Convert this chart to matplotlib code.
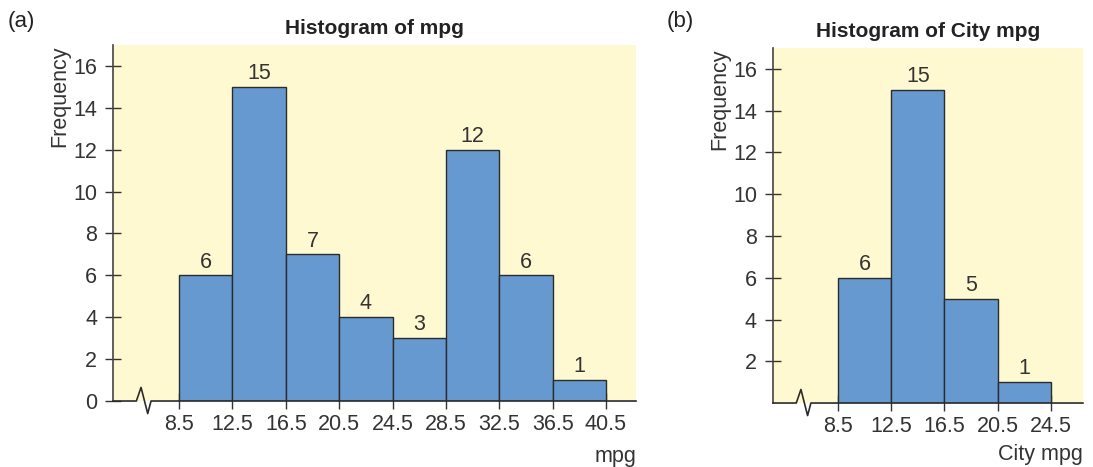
import matplotlib.pyplot as plt
from matplotlib import rcParams

rcParams['font.family'] = ['Liberation Sans', 'DejaVu Sans']
rcParams['xtick.labelsize'] = 15.5
rcParams['ytick.labelsize'] = 15.5
rcParams['xtick.color'] = '#333333'
rcParams['ytick.color'] = '#333333'
rcParams['axes.labelsize'] = 15.5
rcParams['axes.labelcolor'] = '#333333'

# data
mpg_edges = [8.5, 12.5, 16.5, 20.5, 24.5, 28.5, 32.5, 36.5, 40.5]
mpg_counts = [6, 15, 7, 4, 3, 12, 6, 1]
city_edges = [8.5, 12.5, 16.5, 20.5, 24.5]
city_counts = [6, 15, 5, 1]

bg = '#fff9d2'
bar_color = '#6699d0'
edge_color = '#2b2b2b'


def draw_hist(ax, edges, counts, xlim, yticks, title, xlabel, xlabelpad):
	ax.set_facecolor(bg)
	widths = [edges[i+1] - edges[i] for i in range(len(counts))]
	bars = ax.bar(edges[:-1], counts, width=widths, align='edge',
		color=bar_color, edgecolor=edge_color, linewidth=1.0, zorder=2)
	ax.bar_label(bars, padding=2, fontsize=15.5, color='#333333')

	ax.set_xlim(*xlim)
	ax.set_ylim(0, 17)
	ax.set_xticks(edges)
	ax.set_xticklabels([str(e) for e in edges])
	ax.set_yticks(yticks)

	for s in ['top', 'right', 'bottom']:
		ax.spines[s].set_visible(False)
	ax.spines['left'].set_color('#444444')
	ax.spines['left'].set_linewidth(1.2)
	ax.tick_params(axis='y', direction='inout', length=11, width=1, color='#333333', pad=6)
	ax.tick_params(axis='x', direction='inout', length=11, width=1, color='#333333', pad=4)

	# bottom axis line with break mark
	x0 = xlim[0]
	xb = x0 + 1.75
	ax.plot([x0, xb, xb + 0.35, xb + 0.85, xb + 1.1, xlim[1]],
		[0, 0, 0.65, -0.6, 0, 0],
		color=edge_color, linewidth=1.2, clip_on=False, zorder=3)

	ax.set_title(title, fontweight='bold', fontsize=15, pad=8, color='#222222')
	ax.set_ylabel('Frequency', loc='top', labelpad=2)
	ax.set_xlabel(xlabel, loc='right', labelpad=xlabelpad)


fig = plt.figure(figsize=(10.93, 4.67), dpi=100)
ax1 = fig.add_axes([0.1034, 0.1413, 0.4785, 0.7623])
ax2 = fig.add_axes([0.7072, 0.137, 0.2836, 0.760])

draw_hist(ax1, mpg_edges, mpg_counts, (3.55, 42.75), range(0, 17, 2),
	'Histogram of mpg', 'mpg', 8)
draw_hist(ax2, city_edges, city_counts, (3.62, 26.9), range(2, 17, 2),
	'Histogram of City mpg', 'City mpg', 5)

fig.text(0.007, 0.955, '(a)', fontsize=16, color='#222222', va='center')
fig.text(0.610, 0.955, '(b)', fontsize=16, color='#222222', va='center')

plt.savefig('out.png', dpi=100)
